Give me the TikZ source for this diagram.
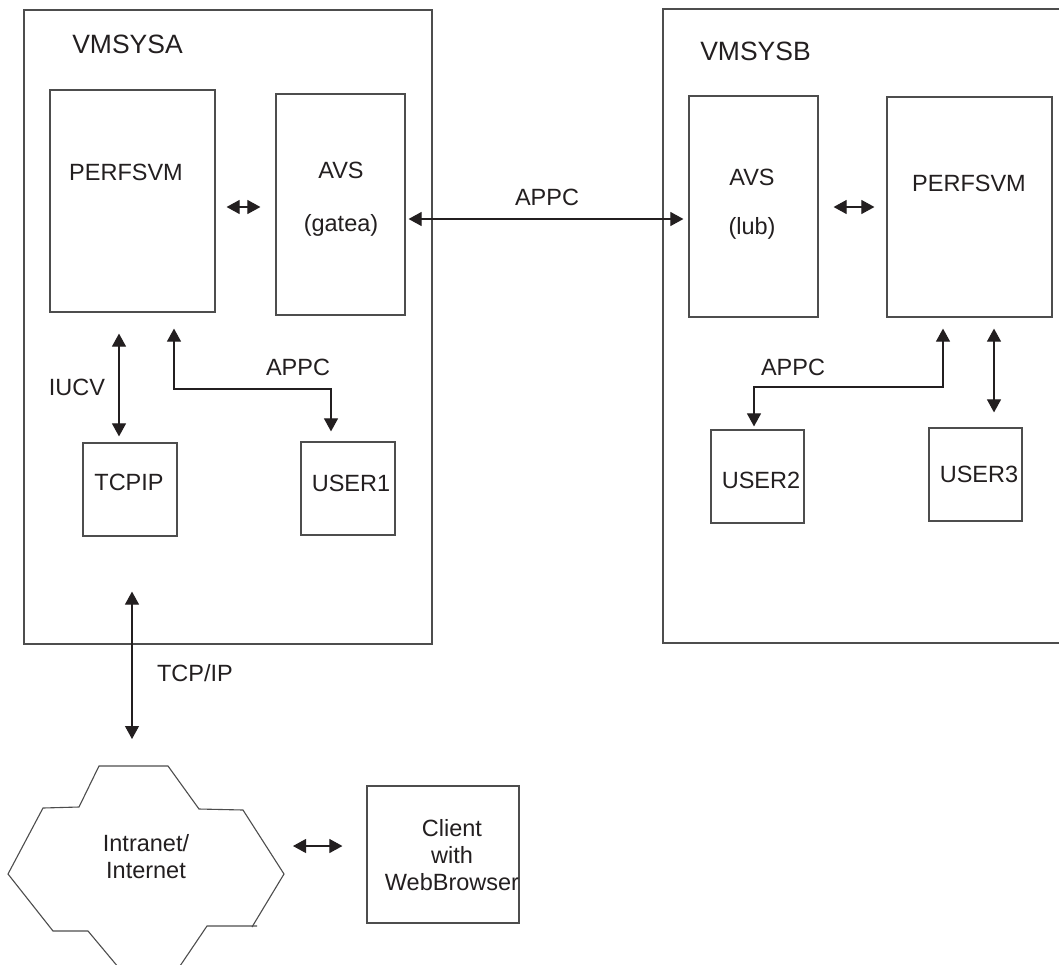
\documentclass[tikz,border=0pt]{standalone}
\usepackage{fontspec}
\setmainfont{Liberation Sans}
\usetikzlibrary{arrows.meta}
\definecolor{ink}{HTML}{231F20}
\definecolor{frame}{HTML}{4D4D4D}
\begin{document}
\begin{tikzpicture}[x=1pt,y=-1pt,
  box/.style={draw=frame, line width=1.2pt, inner sep=0pt, fill=none},
  txt/.style={font=\fontsize{23.5}{27}\selectfont, text=ink, inner sep=0pt, align=center},
  ttl/.style={font=\fontsize{26.5}{30}\selectfont, text=ink, inner sep=0pt},
  dbl/.style={draw=ink, line width=1.1pt, {Triangle[length=13pt,width=14pt]}-{Triangle[length=13pt,width=14pt]}}]
\useasboundingbox (0,0) rectangle (1059,964);
\clip (0,0) rectangle (1059,964);
\fill[white] (0,0) rectangle (1059,964);

% outer systems
\node[box, minimum width=408pt, minimum height=634pt] (sysA) at (228,327) {};
\node[box, minimum width=412pt, minimum height=634pt] (sysB) at (869,326) {};
\node[ttl] (labA) at (127.5,44) {VMSYSA};
\node[ttl] (labB) at (755.5,51.5) {VMSYSB};

% inner boxes
\node[box, minimum width=165pt, minimum height=222pt] (pa) at (132.5,201) {};
\node[box, minimum width=129pt, minimum height=221pt] (aa) at (340.5,204.5) {};
\node[box, minimum width=129pt, minimum height=221pt] (ab) at (753.5,206.5) {};
\node[box, minimum width=165pt, minimum height=220pt] (pb) at (969.5,207) {};
\node[box, minimum width=94pt, minimum height=93pt] (tcp) at (130,489.5) {};
\node[box, minimum width=94pt, minimum height=93pt] (u1) at (348,488.5) {};
\node[box, minimum width=93pt, minimum height=93pt] (u2) at (757.5,476.5) {};
\node[box, minimum width=93pt, minimum height=93pt] (u3) at (975.5,474.5) {};
\node[box, minimum width=152pt, minimum height=137pt] (client) at (443,854.5) {};

% texts in boxes
\node[txt] (tpa) at (126,172) {PERFSVM};
\node[txt] (taa1) at (341,170) {AVS};
\node[txt] (taa2) at (341,225) {(gatea)};
\node[txt] (tab1) at (752,177) {AVS};
\node[txt] (tab2) at (752,228) {(lub)};
\node[txt] (tpb) at (969,183) {PERFSVM};
\node[txt] (ttcp) at (129,482) {TCPIP};
\node[txt] (tu1) at (351,483) {USER1};
\node[txt] (tu2) at (761,480) {USER2};
\node[txt] (tu3) at (979,474) {USER3};
\node[txt] (tcl) at (452,855) {Client\\with\\WebBrowser};

% cloud
\coordinate (cTop) at (132,766);
\coordinate (cR) at (284,846);
\draw[frame, line width=1.1pt, line join=miter]
  (129,980) -- (88,931) -- (53,931) -- (8,874) -- (43,808) -- (79,807) -- (99,766)
  -- (168,766) -- (199,809) -- (243,810) -- (284,874) -- (252,927);
\draw[frame, line width=1.1pt] (257,926) -- (207,926) -- (170.5,980);
\node[txt] (tnet) at (146,856.5) {Intranet/\\Internet};

% labels on connectors
\node[txt] (lappc) at (547,197) {APPC};
\node[txt] (liucv) at (77,387) {IUCV};
\node[txt] (lappcA) at (298,367) {APPC};
\node[txt] (lappcB) at (793,367) {APPC};
\node[txt] (ltcpip) at (195,673) {TCP/IP};

% connectors
\draw[dbl, shorten <=11pt, shorten >=15pt] (pa.east |- 0,207) -- (aa.west |- 0,207);
\draw[dbl, shorten <=3pt, shorten >=5pt] (aa.east |- 0,219) -- (ab.west |- 0,219);
\draw[dbl, shorten <=15pt, shorten >=12pt] (ab.east |- 0,207) -- (pb.west |- 0,207);
\draw[dbl, shorten <=21pt, shorten >=6pt] (pa.south -| 119,0) -- (tcp.north -| 119,0);
\draw[dbl, shorten <=16pt, shorten >=10pt] (pa.south -| 174,0) -- (174,389) -- (331,389) -- (u1.north -| 331,0);
\draw[dbl, shorten <=11pt, shorten >=3pt] (pb.south -| 943,0) -- (943,387) -- (754,387) -- (u2.north -| 754,0);
\draw[dbl, shorten <=11pt, shorten >=15pt] (pb.south -| 994,0) -- (u3.north -| 994,0);
\draw[dbl, shorten <=55pt, shorten >=27pt] (tcp.south -| 132,0) -- (cTop);
\draw[dbl, shorten <=9pt, shorten >=24pt] (cR) -- (client.west |- cR);
\end{tikzpicture}
\end{document}
